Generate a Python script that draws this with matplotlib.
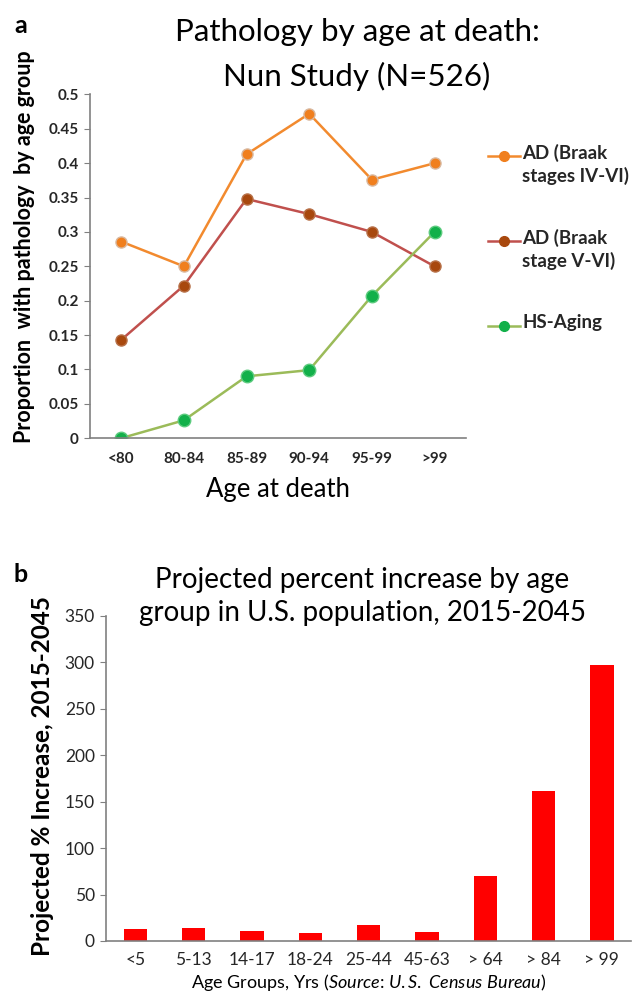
import matplotlib.pyplot as plt
from matplotlib.lines import Line2D

plt.rcParams['font.family'] = ['Lato', 'DejaVu Sans']
plt.rcParams['mathtext.fontset'] = 'custom'
plt.rcParams['mathtext.rm'] = 'Lato'
plt.rcParams['mathtext.it'] = 'Lato:italic'

# panel a data
ages_death = ['<80', '80-84', '85-89', '90-94', '95-99', '>99']
ad_iv_vi = [0.286, 0.25, 0.413, 0.472, 0.376, 0.40]
ad_v_vi = [0.143, 0.222, 0.348, 0.326, 0.30, 0.25]
hs_aging = [0.0, 0.026, 0.09, 0.099, 0.207, 0.30]

# panel b data
age_groups = ['<5', '5-13', '14-17', '18-24', '25-44', '45-63', '> 64', '> 84', '> 99']
pct_increase = [12.5, 14, 11, 8.5, 17.5, 10, 70, 162, 297]

fig = plt.figure(figsize=(6.33, 10.05), dpi=100)

# ---- panel a ----
ax1 = fig.add_axes([0.142, 0.564, 0.594, 0.342])
x = range(len(ages_death))
ax1.plot(x, ad_iv_vi, color='#F28A2E', lw=1.8, marker='o', ms=8,
         mfc='#F07F1E', mec='#D9B9A0', mew=1.0)
ax1.plot(x, ad_v_vi, color='#C0504D', lw=1.8, marker='o', ms=8,
         mfc='#A8480E', mec='#B8724A', mew=1.0)
ax1.plot(x, hs_aging, color='#9BBB59', lw=1.8, marker='o', ms=9,
         mfc='#12B04A', mec='#5CCB7E', mew=1.0)
ax1.set_xlim(-0.5, 5.5)
ax1.set_ylim(0, 0.5)
ax1.set_xticks(list(x))
ax1.set_xticklabels(ages_death, fontsize=11, fontweight='bold', color='#262626')
ax1.set_yticks([0, 0.05, 0.1, 0.15, 0.2, 0.25, 0.3, 0.35, 0.4, 0.45, 0.5])
ax1.set_yticklabels(['0', '0.05', '0.1', '0.15', '0.2', '0.25', '0.3', '0.35',
                     '0.4', '0.45', '0.5'], fontsize=11, fontweight='bold',
                    color='#262626')
ax1.tick_params(axis='x', length=0, pad=10)
ax1.tick_params(axis='y', length=4, color='#808080', pad=4)
for s in ['top', 'right']:
    ax1.spines[s].set_visible(False)
for s in ['left', 'bottom']:
    ax1.spines[s].set_color('#808080')
    ax1.spines[s].set_linewidth(1.2)
ax1.set_xlabel('Age at death', fontsize=18.5, labelpad=8)
ax1.set_ylabel('Proportion  with pathology  by age group', fontsize=15.5,
               fontweight='bold')
ax1.yaxis.set_label_coords(-0.145, 0.558)

fig.text(0.564, 0.968, 'Pathology by age at death:', ha='center', va='center',
         fontsize=22.5)
fig.text(0.564, 0.924, 'Nun Study (N=526)', ha='center', va='center',
         fontsize=22.5)
fig.text(0.022, 0.975, 'a', fontsize=18, fontweight='bold', va='center')

# legend drawn by hand so the marker sits on the first text line
leg_items = [
    ('AD (Braak\nstages IV-VI)', '#F28A2E', '#F07F1E', 156),
    ('AD (Braak\nstage V-VI)', '#C0504D', '#A8480E', 241),
    ('HS-Aging', '#9BBB59', '#12B04A', 326),
]
for label, lc, mc, ypix in leg_items:
    yf = 1 - ypix / 1005
    fig.add_artist(Line2D([488 / 633, 520 / 633], [yf, yf], color=lc, lw=1.8,
                          transform=fig.transFigure))
    fig.add_artist(Line2D([504 / 633], [yf], marker='o', ms=7, color=mc,
                          transform=fig.transFigure))
    fig.text(522 / 633, yf + 0.012, label, fontsize=13.5, fontweight='bold',
             va='top', ha='left', linespacing=1.3, color='#262626')

# ---- panel b ----
ax2 = fig.add_axes([0.1675, 0.0637, 0.8295, 0.3234])
xb = range(len(age_groups))
ax2.bar(xb, pct_increase, width=0.4, color='#FF0000')
ax2.set_xlim(-0.5, 8.5)
ax2.set_ylim(0, 350)
ax2.set_xticks(list(xb))
ax2.set_xticklabels(age_groups, fontsize=12.5, color='#262626')
ax2.set_yticks(range(0, 351, 50))
ax2.tick_params(axis='y', labelsize=12.5, length=4, color='#808080', pad=4,
                labelcolor='#262626')
ax2.tick_params(axis='x', length=0, pad=8)
for s in ['top', 'right']:
    ax2.spines[s].set_visible(False)
for s in ['left', 'bottom']:
    ax2.spines[s].set_color('#808080')
    ax2.spines[s].set_linewidth(1.2)
ax2.set_ylabel('Projected % Increase, 2015-2045', fontsize=17.5,
               fontweight='bold')
ax2.yaxis.set_label_coords(-0.1, 0.508)
ax2.set_xlabel(r'Age Groups, Yrs ($\mathit{Source}$: $\mathit{U.S.\ Census\ Bureau}$)',
               fontsize=13, labelpad=3)

fig.text(0.572, 0.423, 'Projected percent increase by age', ha='center',
         va='center', fontsize=20)
fig.text(0.572, 0.390, 'group in U.S. population, 2015-2045', ha='center',
         va='center', fontsize=20)
fig.text(0.022, 0.428, 'b', fontsize=18, fontweight='bold', va='center')

fig.savefig('out.png', dpi=100)
